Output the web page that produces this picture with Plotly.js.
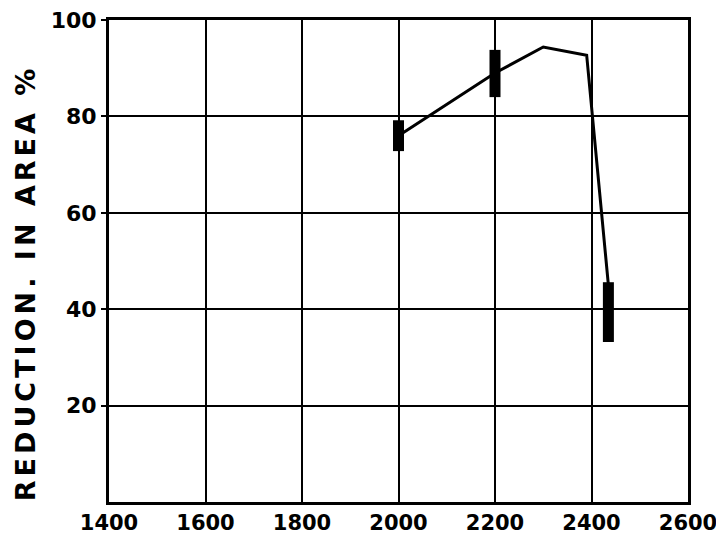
<!DOCTYPE html>
<html>
<head>
<meta charset="utf-8">
<script src="https://cdn.plot.ly/plotly-3.0.1.min.js"></script>
<style>html,body{margin:0;padding:0;background:#fff;}#chart{width:716px;height:537px;}
.annotation-text{letter-spacing:4px;}</style>
</head>
<body>
<div id="chart"></div>
<script>
// Main curve
const lineX = [2000, 2200, 2300, 2390, 2435];
const lineY = [76, 89, 94.4, 92.7, 45];
// Scatter bands (vertical bars of data spread)
const bandX = [2000, 2200, 2435];
const bandLow = [72.8, 84, 33.2];
const bandHigh = [79.2, 93.8, 45.6];
// Axis ticks
const xTicks = [1400, 1600, 1800, 2000, 2200, 2400, 2600];
const yTicks = [20, 40, 60, 80, 100];
const yTitle = 'REDUCTION. IN AREA %';

const traces = [{
  x: lineX, y: lineY, mode: 'lines', type: 'scatter',
  line: {color: '#000', width: 3}, hoverinfo: 'skip'
}];
bandX.forEach((bx, i) => {
  traces.push({
    x: [bx, bx], y: [bandLow[i], bandHigh[i]], mode: 'lines', type: 'scatter',
    line: {color: '#000', width: 11}, hoverinfo: 'skip'
  });
});

const fontFam = '"DejaVu Sans", "Liberation Sans", sans-serif';
const layout = {
  width: 716, height: 537,
  margin: {l: 109, r: 28, t: 20, b: 35},
  paper_bgcolor: '#fff', plot_bgcolor: '#fff',
  showlegend: false,
  font: {family: fontFam, color: '#000', size: 19},
  xaxis: {
    range: [1400, 2600], tickvals: xTicks, ticktext: xTicks.map(String),
    showgrid: true, gridcolor: '#000', gridwidth: 2,
    showline: true, linecolor: '#000', linewidth: 3, mirror: true,
    zeroline: false, ticks: '', ticklen: 0, ticklabeloverflow: 'allow',
    tickfont: {family: fontFam, size: 21, color: '#000', weight: 'bold'}
  },
  yaxis: {
    range: [0, 100], tickvals: yTicks, ticktext: yTicks.map(String),
    showgrid: true, gridcolor: '#000', gridwidth: 2,
    showline: true, linecolor: '#000', linewidth: 3, mirror: true,
    zeroline: false, ticks: 'outside', ticklen: 5, tickwidth: 2, tickcolor: '#000',
    ticklabeloverflow: 'allow',
    tickfont: {family: fontFam, size: 22, color: '#000', weight: 'bold'}
  },
  annotations: [{
    text: yTitle, xref: 'paper', yref: 'paper',
    x: -0.145, y: 0.454, xanchor: 'center', yanchor: 'middle',
    textangle: -90, showarrow: false,
    font: {family: fontFam, size: 27, color: '#000', weight: 'bold'}
  }]
};
Plotly.newPlot('chart', traces, layout, {displayModeBar: false, staticPlot: true});
</script>
</body>
</html>
